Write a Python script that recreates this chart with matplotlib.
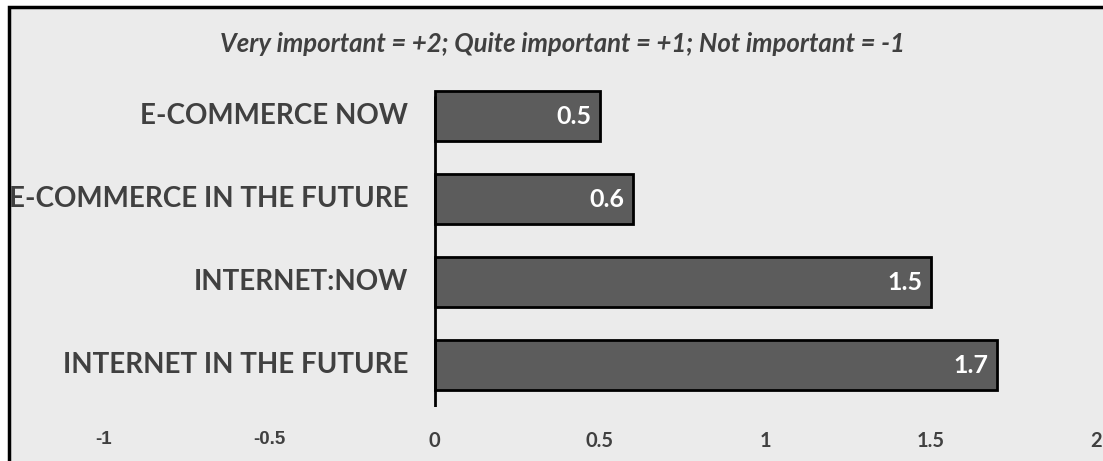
import matplotlib.pyplot as plt
from matplotlib.patches import Rectangle

categories = ["E-COMMERCE NOW", "E-COMMERCE IN THE FUTURE", "INTERNET:NOW", "INTERNET IN THE FUTURE"]
values = [0.5, 0.6, 1.5, 1.7]
xticks = [-1, -0.5, 0, 0.5, 1, 1.5, 2]
xtick_labels = ["-1", "-0.5", "0", "0.5", "1", "1.5", "2"]
title = "Very important = +2; Quite important = +1; Not important = -1"

W, H = 1103, 461
bg = "#ebebeb"
txt = "#404040"
font = "Lato"

fig = plt.figure(figsize=(W / 100, H / 100), dpi=100)
fig.patch.set_facecolor("white")
# chart frame (runs off the right and bottom edges)
frame = Rectangle((9 / W, -0.1), 1.2, 1 - 7 / H + 0.1, transform=fig.transFigure,
                  facecolor=bg, edgecolor="black", linewidth=2.5, zorder=-5)
fig.patches.append(frame)

# axes: x=-1 at px 104, x=2 at px 1096; rows 83 px apart, first centred at 116
ax = fig.add_axes([104 / W, 1 - 407 / H, (1096 - 104) / W, (407 - 75) / H])
ax.set_facecolor("none")
ax.set_xlim(-1, 2)
ax.set_ylim(3.506, -0.494)
ypos = list(range(len(categories)))
ax.barh(ypos, values, height=0.6, color="#5c5c5c", edgecolor="black", linewidth=2, zorder=2)
for y, v in zip(ypos, values):
    ax.text(v - 0.025, y, f"{v:g}", ha="right", va="center", color="white",
            fontsize=18, fontweight="bold", family=font, zorder=3)
    ax.text(-0.08, y, categories[y], ha="right", va="center", color=txt,
            fontsize=20, fontweight="bold", family=font, zorder=3)

ax.plot([0, 0], [-0.24, 3.506], color="black", lw=2, zorder=3, solid_capstyle="butt")
for s in ax.spines.values():
    s.set_visible(False)
ax.set_yticks([])
ax.set_xticks(xticks)
ax.set_xticklabels(xtick_labels, fontsize=14.5, fontweight="bold", color=txt, family=font)
for lab, val in zip(ax.get_xticklabels(), xticks):
    if val < 0:
        lab.set_family("Liberation Sans")
        lab.set_fontsize(13.5)
ax.tick_params(axis="x", length=0, pad=17)

fig.text(562 / W, 1 - 44 / H, title, ha="center", va="center", fontsize=18.5, fontweight="bold",
         style="italic", color=txt, family=font)

fig.savefig("out.png", dpi=100, facecolor=fig.get_facecolor())
